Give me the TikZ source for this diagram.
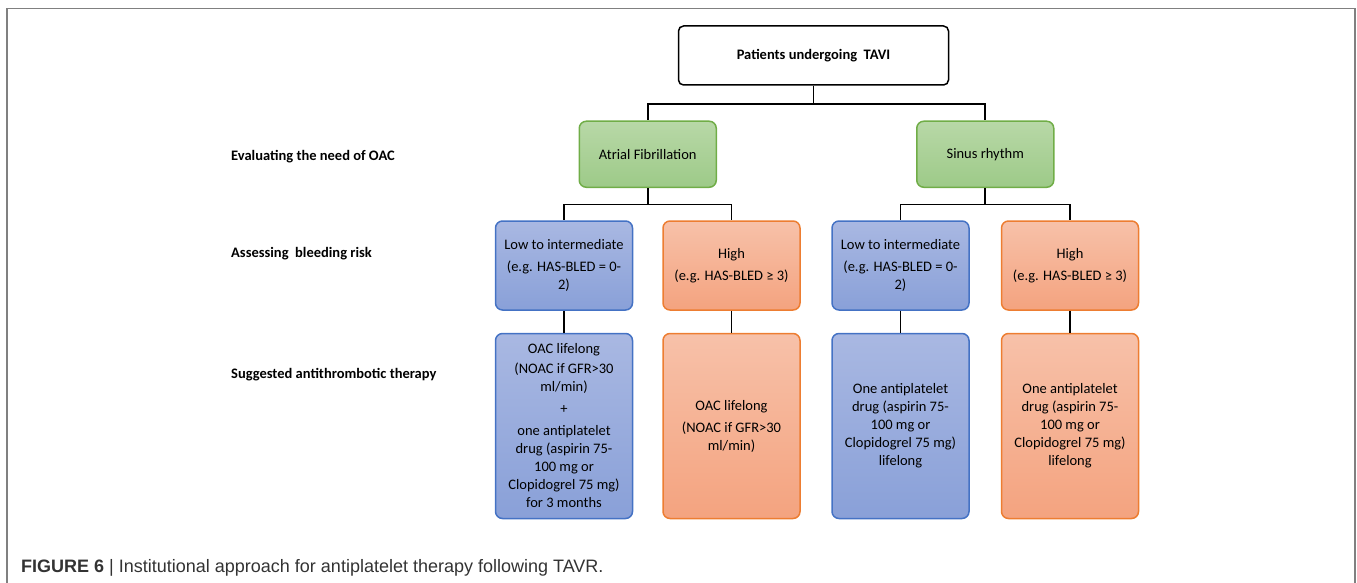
\documentclass[tikz,border=0pt]{standalone}
\usepackage{fontspec}
\setmainfont{Carlito}
\newfontfamily\capfont{Liberation Sans}
\usetikzlibrary{positioning}
\usetikzlibrary{calc}

\definecolor{greenline}{HTML}{70AD47}
\definecolor{greentop}{HTML}{B8D8A7}
\definecolor{greenbot}{HTML}{9DCA88}
\definecolor{blueline}{HTML}{4472C4}
\definecolor{bluetop}{HTML}{A9B8E2}
\definecolor{bluebot}{HTML}{89A0D8}
\definecolor{orangeline}{HTML}{ED7D31}
\definecolor{orangetop}{HTML}{F7C1A9}
\definecolor{orangebot}{HTML}{F4A37F}

\tikzset{
    box/.style = {draw, rounded corners = 7pt, line width = 1.5pt, align = center,
        inner sep = 2pt, font = \fontsize{14.5}{18}\selectfont},
    topbox/.style = {box, draw = black, fill = white, rounded corners = 5pt,
        minimum width = 270pt, minimum height = 59pt, font = \bfseries\fontsize{14.5}{18}\selectfont},
    rhythm/.style = {box, draw = greenline, top color = greentop, bottom color = greenbot,
        minimum width = 137pt, minimum height = 66pt},
    lowbox/.style = {box, draw = blueline, top color = bluetop, bottom color = bluebot},
    highbox/.style = {box, draw = orangeline, top color = orangetop, bottom color = orangebot},
    riskbox/.style = {minimum width = 137pt, minimum height = 89pt},
    therapybox/.style = {minimum width = 137pt, minimum height = 185pt},
    rowlabel/.style = {anchor = west, inner sep = 0pt, font = \bfseries\fontsize{14.5}{18}\selectfont},
    link/.style = {line width = 1.6pt},
    frame/.style = {draw = black!50, line width = 1.6pt}
}

\begin{document}
\begin{tikzpicture}[x = 1pt, y = -1pt]
    \useasboundingbox (0,0) rectangle (1357,583);
    \draw[frame] (7,583) -- (7,8.5) -- (1355,8.5) -- (1355,583);
    % nodes %
    \node[topbox] (tavi) at (813.5,55.5) {Patients undergoing~ TAVI};
    \node[riskbox, lowbox] (lowaf) at (564,265.5) {Low to intermediate\\[4pt](e.g. HAS-BLED = 0-\\2)};
    \node[riskbox, highbox, right = 29pt of lowaf] (highaf) {High\\[4pt](e.g. HAS-BLED ≥ 3)};
    \node[riskbox, lowbox, right = 30.5pt of highaf] (lowsr) {Low to intermediate\\[4pt](e.g. HAS-BLED = 0-\\2)};
    \node[riskbox, highbox, right = 31pt of lowsr] (highsr) {High\\[4pt](e.g. HAS-BLED ≥ 3)};
    \node[rhythm] (af) at ($(lowaf.north)!0.5!(highaf.north) + (0,-66)$) {Atrial Fibrillation};
    \node[rhythm] (sr) at ($(lowsr.north)!0.5!(highsr.north) + (0,-66)$) {Sinus rhythm};
    \node[therapybox, lowbox, below = 22pt of lowaf] (thlowaf) {OAC lifelong\\[2pt](NOAC if GFR>30\\ml/min)\\[4pt]+\\[4pt]one antiplatelet\\drug (aspirin 75-\\100 mg or\\Clopidogrel 75 mg)\\for 3 months};
    \node[therapybox, highbox, below = 22pt of highaf] (thhighaf) {OAC lifelong\\[4pt](NOAC if GFR>30\\ml/min)};
    \node[therapybox, lowbox, below = 22pt of lowsr] (thlowsr) {One antiplatelet\\drug (aspirin 75-\\100 mg or\\Clopidogrel 75 mg)\\lifelong};
    \node[therapybox, highbox, below = 22pt of highsr] (thhighsr) {One antiplatelet\\drug (aspirin 75-\\100 mg or\\Clopidogrel 75 mg)\\lifelong};
    % row labels %
    \node[rowlabel] (needoac) at (231,156.5) {Evaluating the need of OAC};
    \node[rowlabel] (bleeding) at (231,254) {Assessing~ bleeding risk};
    \node[rowlabel] (therapy) at (231,375) {Suggested antithrombotic therapy};
    % caption %
    \node[anchor = west, inner sep = 0pt, text = black!80, font = \capfont\fontsize{18}{21}\selectfont] (caption) at (21,568)
        {\textbf{FIGURE 6} | Institutional approach for antiplatelet therapy following TAVR.};
    % edges %
    \draw[link] (tavi.south) -- ++(0,18) -| (af.north);
    \draw[link] (tavi.south) -- ++(0,18) -| (sr.north);
    \draw[link] (af.south) -- ++(0,16.5) -| (lowaf.north);
    \draw[link] (af.south) -- ++(0,16.5) -| (highaf.north);
    \draw[link] (sr.south) -- ++(0,16.5) -| (lowsr.north);
    \draw[link] (sr.south) -- ++(0,16.5) -| (highsr.north);
    \draw[link] (lowaf.south) -- (thlowaf.north);
    \draw[link] (highaf.south) -- (thhighaf.north);
    \draw[link] (lowsr.south) -- (thlowsr.north);
    \draw[link] (highsr.south) -- (thhighsr.north);
\end{tikzpicture}
\end{document}
